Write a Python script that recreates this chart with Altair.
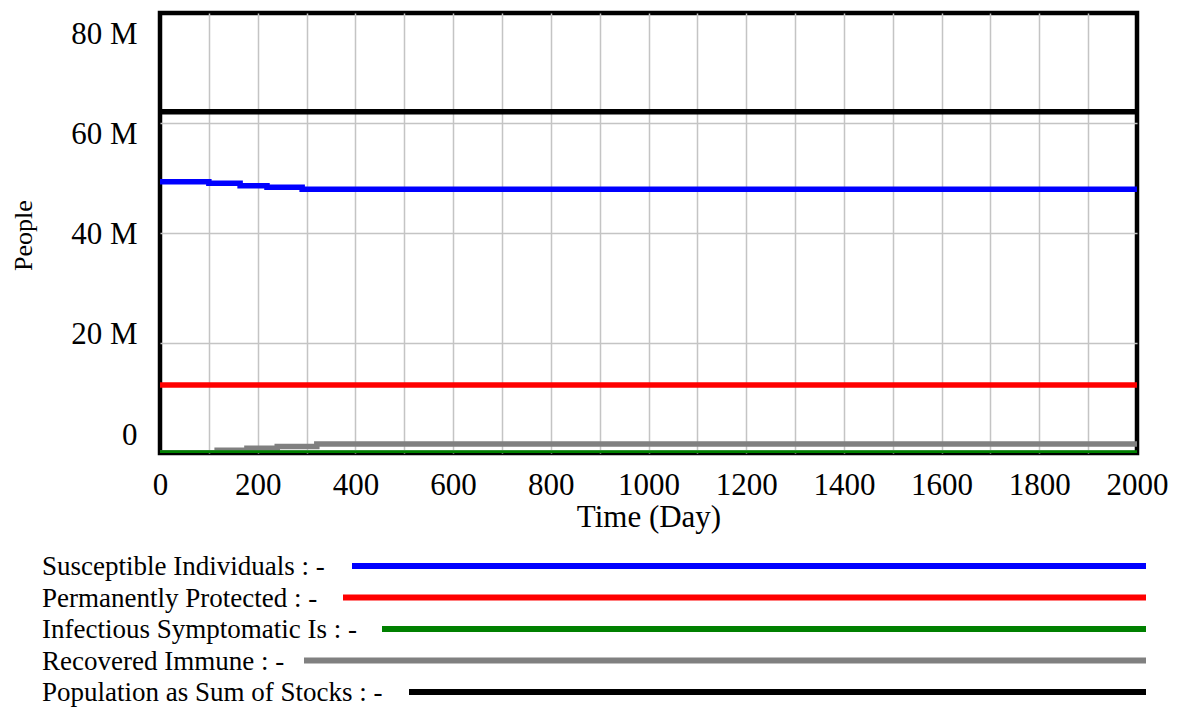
import altair as alt
import pandas as pd

# ---------------- data ----------------
series_names = [
    "Susceptible Individuals",
    "Permanently Protected",
    "Infectious Symptomatic Is",
    "Recovered Immune",
    "Population as Sum of Stocks",
]
series_colors = ["#0000ff", "#ff0000", "#008000", "#808080", "#000000"]

susceptible_days = [0, 100, 164, 219, 291, 2000]
susceptible_millions = [49.33, 49.04, 48.60, 48.31, 47.95, 47.95]

protected_days = [0, 2000]
protected_millions = [12.36, 12.36]

infectious_days = [0, 2000]
infectious_millions = [0.02, 0.02]

recovered_days = [0, 117, 178, 240, 321, 2000]
recovered_millions = [0.0, 0.50, 0.85, 1.20, 1.65, 1.65]

population_days = [0, 2000]
population_millions = [62.05, 62.05]

x_ticks = list(range(0, 2001, 100))
y_ticks = [0, 20_000_000, 40_000_000, 60_000_000, 80_000_000]

# ---------------- layout / style ----------------
FONT = "Liberation Serif"
PLOT_W, PLOT_H = 977, 440
LINE_W = 5.5

# legend layout (pixels relative to plot origin)
legend_text_x = -118
legend_line_start = [192, 183, 222, 144, 249]
legend_line_end = 986
legend_row_y = [553, 584.5, 616, 647.5, 679]

series_data = [
    (susceptible_days, susceptible_millions),
    (protected_days, protected_millions),
    (infectious_days, infectious_millions),
    (recovered_days, recovered_millions),
    (population_days, population_millions),
]

x_scale = alt.Scale(domain=[0, 2000], nice=False, zero=False)
y_scale = alt.Scale(domain=[0, 80_000_000], nice=False)

x_axis = alt.Axis(
    values=x_ticks,
    labelExpr="datum.value % 200 == 0 ? format(datum.value, 'd') : ''",
    grid=True, gridColor="#c4c4c4", gridWidth=1.5,
    gridOpacity={"condition": {"test": "datum.value == 0 || datum.value == 2000", "value": 0},
                 "value": 1},
    ticks=False, domain=False,
    labelFont=FONT, labelFontSize=31, labelColor="black", labelPadding=17,
    labelFlush=False, labelOverlap=False,
    title="Time (Day)", titleFont=FONT, titleFontSize=31, titleFontWeight="normal",
    titleColor="black", titleBaseline="middle", titleY=64,
)

y_axis = alt.Axis(
    values=y_ticks,
    labelExpr="datum.value == 0 ? '0' : format(datum.value / 1000000, 'd') + ' M'",
    grid=True, gridColor="#c4c4c4", gridWidth=1.5,
    gridOpacity={"condition": {"test": "datum.value == 0 || datum.value == 80000000", "value": 0},
                 "value": 1},
    ticks=False, domain=False,
    labelFont=FONT, labelFontSize=31, labelColor="black", labelPadding=23,
    labelBaseline="middle", labelFlush=False, labelOverlap=False,
    labelOffset={
        "condition": [
            {"test": "datum.value == 80000000", "value": 21},
            {"test": "datum.value == 60000000", "value": 11},
            {"test": "datum.value == 40000000", "value": 1},
            {"test": "datum.value == 20000000", "value": -9},
        ],
        "value": -18,
    },
    title="People", titleFont=FONT, titleFontSize=26, titleFontWeight="normal",
    titleColor="black", titleAngle=-90, titleBaseline="middle", titleAlign="center",
    titleX=-137, titleY=222,
)

draw_order = [0, 1, 3, 2, 4]
layers = []
for i in draw_order:
    days, vals = series_data[i]
    df = pd.DataFrame({"day": days, "people": [v * 1_000_000 for v in vals],
                       "series": series_names[i]})
    layers.append(
        alt.Chart(df).mark_line(
            color=series_colors[i], strokeWidth=LINE_W, interpolate="step-after",
            strokeCap="butt", clip=True,
        ).encode(
            x=alt.X("day:Q", scale=x_scale, axis=x_axis),
            y=alt.Y("people:Q", scale=y_scale, axis=y_axis),
        )
    )

legend_df = pd.DataFrame({
    "label": [n + " : -" for n in series_names],
    "color": series_colors,
    "tx": [legend_text_x] * len(series_names),
    "x0": legend_line_start,
    "x1": [legend_line_end] * len(series_names),
    "ly": legend_row_y,
    "ty": [v + 1.0 for v in legend_row_y],
})

legend_text = alt.Chart(legend_df).mark_text(
    align="left", baseline="middle", font=FONT, fontSize=27, color="black"
).encode(
    x=alt.X("tx:Q", scale=None, axis=None),
    y=alt.Y("ty:Q", scale=None, axis=None),
    text="label:N",
)

legend_lines = alt.Chart(legend_df).mark_rule(strokeWidth=6, strokeCap="butt").encode(
    x=alt.X("x0:Q", scale=None, axis=None),
    x2="x1:Q",
    y=alt.Y("ly:Q", scale=None, axis=None),
    color=alt.Color("color:N", scale=None, legend=None),
)

chart = alt.layer(*layers, legend_text, legend_lines).properties(
    width=PLOT_W,
    height=PLOT_H,
    autosize=alt.AutoSizeParams(type="none"),
    padding={"left": 152, "top": 5, "right": 34, "bottom": 255},
).configure(
    background="white"
).configure_view(
    stroke="black", strokeWidth=4.5
)

chart.save("out.html", embed_options={"renderer": "svg", "actions": False})
